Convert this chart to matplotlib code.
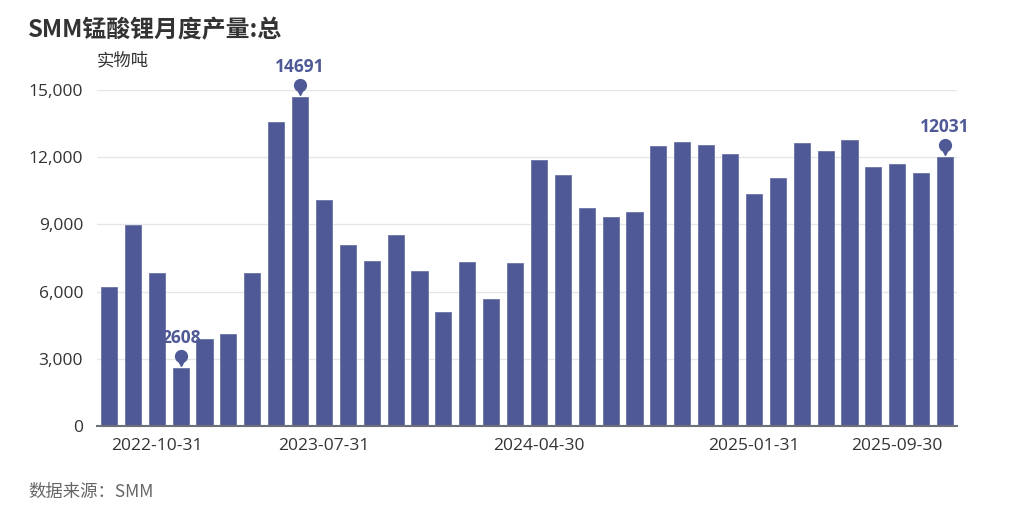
import matplotlib
matplotlib.use("Agg")
import matplotlib.pyplot as plt
from matplotlib.ticker import FuncFormatter
from matplotlib.transforms import offset_copy

plt.rcParams['font.family'] = ['Noto Sans CJK SC', 'DejaVu Sans']
num_font = ['Open Sans', 'Noto Sans CJK SC']

# 月份（横轴类目）
dates = [
    "2022-08-31", "2022-09-30", "2022-10-31", "2022-11-30", "2022-12-31",
    "2023-03-31", "2023-04-30", "2023-05-31", "2023-06-30", "2023-07-31",
    "2023-08-31", "2023-09-30", "2023-10-31", "2023-11-30", "2023-12-31",
    "2024-01-31", "2024-02-29", "2024-03-31", "2024-04-30", "2024-05-31",
    "2024-06-30", "2024-07-31", "2024-08-31", "2024-09-30", "2024-10-31",
    "2024-11-30", "2024-12-31", "2025-01-31", "2025-03-31", "2025-04-30",
    "2025-05-31", "2025-06-30", "2025-08-31", "2025-09-30", "2025-10-31",
    "2025-11-30",
]
# 产量，实物吨
output = [
    6200, 8980, 6830, 2608, 3870, 4110, 6830, 13570, 14691, 10090,
    8080, 7370, 8530, 6920, 5100, 7320, 5670, 7280, 11875, 11205,
    9720, 9315, 9550, 12485, 12690, 12545, 12130, 10345, 11060, 12620,
    12260, 12750, 11560, 11710, 11280, 12031,
]
shown_labels = ["2022-10-31", "2023-07-31", "2024-04-30", "2025-01-31", "2025-09-30"]
marked = [3, 8, 35]  # 最低、最高、最新

bar_color = '#4e5996'
text_color = '#333333'

fig = plt.figure(figsize=(10.24, 5.16), dpi=100)
ax = fig.add_axes([97 / 1024, 1 - 426 / 516, 860 / 1024, 336 / 516])

x = list(range(len(dates)))
ax.bar(x, output, width=0.67, color=bar_color, edgecolor='#6a74a8', linewidth=0.6, zorder=3)

ax.set_xlim(-0.5, len(dates) - 0.5)
ax.set_ylim(0, 15000)
ax.set_yticks([0, 3000, 6000, 9000, 12000, 15000])
ax.yaxis.set_major_formatter(FuncFormatter(lambda v, p: f"{int(v):,}"))
ax.grid(axis='y', color='#e6e6e6', linewidth=1, zorder=0)

tick_pos = [dates.index(d) for d in shown_labels]
ax.set_xticks(tick_pos)
ax.set_xticklabels(shown_labels)
ax.tick_params(axis='x', length=0, pad=9, labelsize=12.5, labelcolor=text_color)
ax.tick_params(axis='y', length=0, pad=10, labelsize=12.5, labelcolor=text_color)
for lab in ax.get_xticklabels() + ax.get_yticklabels():
    lab.set_family(num_font)

for s in ['top', 'right', 'left']:
    ax.spines[s].set_visible(False)
ax.spines['bottom'].set_color('#6e7079')
ax.spines['bottom'].set_linewidth(1.5)
ax.spines['bottom'].set_zorder(4)

# 标记点：小图钉 + 数值
for i in marked:
    v = output[i]
    circ_t = offset_copy(ax.transData, fig=fig, x=0, y=12, units='dots')
    tip_t = offset_copy(ax.transData, fig=fig, x=0, y=6, units='dots')
    ax.plot(i, v, marker='o', markersize=8.5, color=bar_color, transform=circ_t,
            clip_on=False, zorder=5)
    ax.plot(i, v, marker='v', markersize=5.5, color=bar_color, transform=tip_t,
            clip_on=False, zorder=5)
    ax.annotate(str(v), (i, v), xytext=(0, 21), textcoords='offset pixels',
                ha='center', va='bottom', fontsize=12.5, fontweight='bold',
                family=num_font, color=bar_color, zorder=6, annotation_clip=False)

fig.text(28 / 1024, 1 - 30 / 516, "SMM锰酸锂月度产量:总", fontsize=17.2,
         fontweight='bold', color=text_color, ha='left', va='center')
fig.text(97 / 1024, 1 - 60 / 516, "实物吨", fontsize=12.5, color=text_color,
         ha='left', va='center')
fig.text(28 / 1024, 1 - 492 / 516, "数据来源：SMM", fontsize=12.5, color='#666666',
         style='italic', ha='left', va='center')

fig.savefig("out.png", dpi=100, facecolor='white')
